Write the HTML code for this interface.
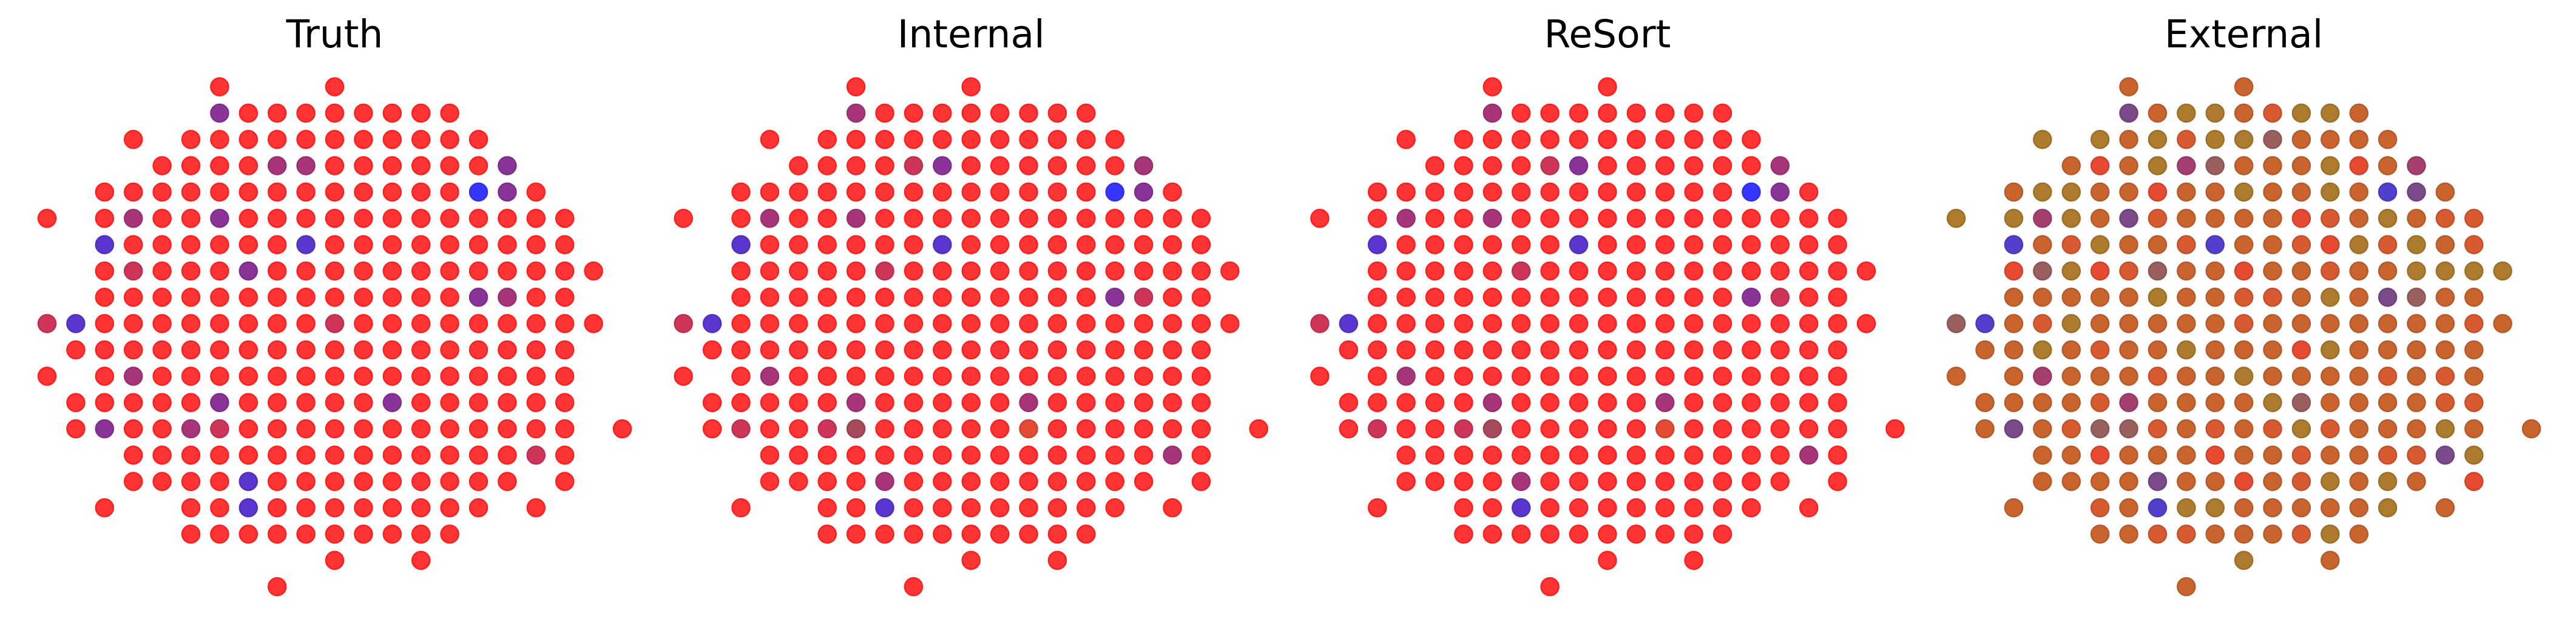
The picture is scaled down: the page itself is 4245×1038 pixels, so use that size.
<!DOCTYPE html>
<html><head><meta charset="utf-8"><style>
html,body{margin:0;padding:0;background:#fff;}
svg{display:block;}
text{font-family:"DejaVu Sans","Liberation Sans",sans-serif;}
</style></head><body>
<svg id="chart" width="4245" height="1038" viewBox="0 0 4245 1038" xmlns="http://www.w3.org/2000/svg"></svg>
<script>
const panelTitles = ["Truth","Internal","ReSort","External"];
const truthGrid = [
"......R...R..........",
"......pRRRRRRRR......",
"...R.RRRRRRRRRRR.....",
"....RRRRmmRRRRRRp....",
"..RRRRRRRRRRRRRBpR...",
"R.RmRRpRRRRRRRRRRRR..",
"..bRRRRRRbRRRRRRRRR..",
"..RcRRRpRRRRRRRRRRRR.",
"..RRRRRRRRRRRRRpmRR..",
"cbRRRRRRRRcRRRRRRRRR.",
".RRRRRRRRRRRRRRRRRR..",
"R.RmRRRRRRRRRRRRRRR..",
".RRRRRpRRRRRpRRRRRR..",
".RpRRmcRRRRRRRRRRRR.R",
"...RRRRRRRRRRRRRRcR..",
"...RRRRbRRRRRRRRR.R..",
"..R..RRbRRRRRRRR.R...",
".....RRRRRRRRRR......",
"..........R..R.......",
"........R............"];
const internalGrid = [
"......R...R..........",
"......mRRRRRRRR......",
"...R.RRRRRRRRRRR.....",
"....RRRRcpRRRRRRm....",
"..RRRRRRRRRRRRRBpR...",
"R.RmRRmRRRRRRRRRRRR..",
"..bRRRRRRbRRRRRRRRR..",
"..RRRRRcRRRRRRRRRRRR.",
"..RRRRRRRRRRRRRpcRR..",
"cbRRRRRRRRRRRRRRRRRR.",
".RRRRRRRRRRRRRRRRRR..",
"R.RmRRRRRRRRRRRRRRR..",
".RRRRRmRRRRRmRRRRRR..",
".RcRRckRRRRRqRRRRRR.R",
"...RRRRRRRRRRRRRRmR..",
"...RRRRmRRRRRRRRR.R..",
"..R..RRbRRRRRRRR.R...",
".....RRRRRRRRRR......",
"..........R..R.......",
"........R............"];
const resortGrid = internalGrid.slice();
const externalGrid = [
"......o...o..........",
"......poyyoryyo......",
"...y.yoyryykoooo.....",
"....oRoymkoooyRom....",
"..oyyooRooyooyobpo...",
"y.ymyoprooooRroyorr..",
"..boryoorboorRyryor..",
"..RkyRrkooRoorooyyyy.",
"..oooooyoorroyopkoo..",
"kboryoooooroooooooro.",
".ooyorooyoooRyooooo..",
"o.omooorooyoooororo..",
".oooormooooykoooorr..",
".oporkkrororyroooyo.o",
"...ooRoooRooroorrpy..",
"...oooopooRoryoyo.R..",
"..o..robyyoooooy.o...",
".....oorroooryo......",
"..........y..o.......",
"........o............"];
const panelGrids = [truthGrid, internalGrid, resortGrid, externalGrid];
const fills = {R:"#ff3434",p:"#8a3399",m:"#a8357a",c:"#cf3558",b:"#5a35d0",B:"#3535ff",k:"#a64a5c",q:"#e54a34",
  o:"#c8652f",y:"#a8802e",r:"#d85a30"};
const fills4 = {o:"#c9642f",y:"#ad7b2e",r:"#d85a30",R:"#e64a30",p:"#7a4a8a",m:"#a43f70",k:"#9a5f5f",b:"#5040cc"};
const strokes = {R:"#ff1f1f"};

const svg = document.getElementById('chart');
const NS = "http://www.w3.org/2000/svg";
const panelX0 = 77.5, panelDX = 1048.7, colDX = 47.4, rowY0 = 143, rowDY = 43.35, R = 14.5;
function xPos(p, c){ return panelX0 + p*panelDX + c*colDX; }
function yPos(r){ return rowY0 + r*rowDY; }
function darker(hex){
  const n = parseInt(hex.slice(1),16);
  const f = v => Math.max(0, Math.round(v*0.9)).toString(16).padStart(2,'0');
  return '#'+f(n>>16)+f((n>>8)&255)+f(n&255);
}
panelGrids.forEach((grid, p) => {
  const g = document.createElementNS(NS,'g');
  
  
  svg.appendChild(g);
  const t = document.createElementNS(NS,'text');
  t.setAttribute('x', xPos(p,10));
  t.setAttribute('y', 78);
  t.setAttribute('text-anchor','middle');
  t.setAttribute('font-size','63');
  t.setAttribute('fill','#000');
  t.textContent = panelTitles[p];
  
  
  g.appendChild(t);
  grid.forEach((row, r) => {
    for (let c = 0; c < row.length; c++) {
      const code = row[c];
      if (code === '.') continue;
      const fill = (p === 3 ? fills4[code] : fills[code]) || "#ff3434";
      const circ = document.createElementNS(NS,'circle');
      circ.setAttribute('cx', xPos(p,c));
      circ.setAttribute('cy', yPos(r));
      circ.setAttribute('r', R);
      circ.setAttribute('fill', fill);
      circ.setAttribute('stroke', (p!==3 && strokes[code]) ? strokes[code] : darker(fill));
      circ.setAttribute('stroke-width', 2.5);
      
      
      g.appendChild(circ);
    }
  });
});
</script>
</body></html>
